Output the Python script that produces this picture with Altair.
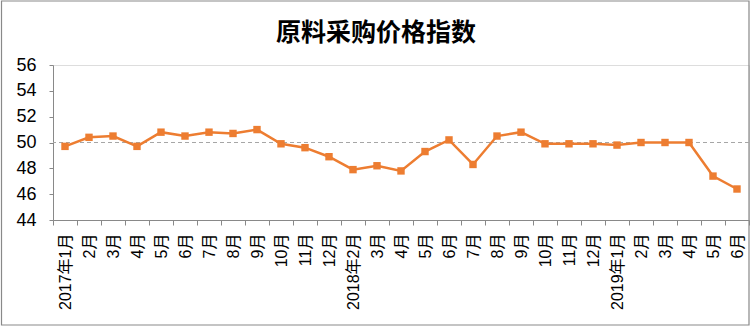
import json
import altair as alt
import pandas as pd

title_text = "原料采购价格指数"
labels = ["2017年1月", "2月", "3月", "4月", "5月", "6月", "7月", "8月", "9月", "10月", "11月", "12月",
          "2018年2月", "3月", "4月", "5月", "6月", "7月", "8月", "9月", "10月", "11月", "12月",
          "2019年1月", "2月", "3月", "4月", "5月", "6月"]
values = [49.7, 50.4, 50.5, 49.7, 50.8, 50.5, 50.8, 50.7, 51.0, 49.9, 49.6, 48.9,
          47.9, 48.2, 47.8, 49.3, 50.2, 48.3, 50.5, 50.8, 49.9, 49.9, 49.9,
          49.8, 50.0, 50.0, 50.0, 47.4, 46.4]
y_ticks = [44, 46, 48, 50, 52, 54, 56]
ref_value = 50

df = pd.DataFrame({"i": list(range(len(labels))), "v": values})
label_expr = json.dumps(labels, ensure_ascii=False) + "[datum.value]"

W, H = 696, 155
ORANGE = "#ED7D31"
GRAY = "#898989"

x_enc = alt.X(
    "i:O",
    scale=alt.Scale(paddingInner=0, paddingOuter=0),
    axis=alt.Axis(
        title=None, labelExpr=label_expr, labelAngle=270, tickBand="extent",
        tickSize=5, labelPadding=8, labelFontSize=16,
        labelFont="Liberation Sans, Noto Sans CJK SC", labelColor="#000000",
        domainColor=GRAY, tickColor=GRAY, labelOverlap=False, grid=False,
    ),
)
y_scale = alt.Scale(domain=[44, 56], nice=False, zero=False)
y_axis = alt.Axis(
    title=None, values=y_ticks, grid=False, tickSize=4, labelPadding=13,
    labelFontSize=18, labelFont="Liberation Sans", labelColor="#000000",
    domainColor=GRAY, tickColor=GRAY, labelOverlap=False,
    labelBound=False, labelFlush=False,
)

line = alt.Chart(df).mark_line(
    color=ORANGE, strokeWidth=2.5,
    point=alt.OverlayMarkDef(shape="square", size=55, filled=True, color=ORANGE, opacity=1),
).encode(x=x_enc, y=alt.Y("v:Q", scale=y_scale, axis=y_axis))

ref = alt.Chart(alt.Data(values=[{"v": ref_value}])).mark_rule(
    color="#A6A6A6", strokeDash=[4, 3], strokeWidth=1
).encode(y=alt.Y("v:Q", scale=y_scale, axis=y_axis))

border = alt.Chart(alt.Data(values=[{}])).mark_rect(
    fill=None, filled=False, stroke=GRAY, strokeWidth=1.2
).encode(x=alt.value(-51.5), x2=alt.value(696), y=alt.value(-64), y2=alt.value(260))

title = alt.Chart(alt.Data(values=[{"t": title_text}])).mark_text(
    font="Noto Sans CJK SC", fontSize=25, fontWeight="bold", color="#000000",
    align="center", baseline="middle",
).encode(text="t:N", x=alt.value(323), y=alt.value(-32))

chart = alt.layer(border, ref, line, title).properties(
    width=W, height=H,
    padding={"left": 53, "top": 65, "right": 1, "bottom": 106},
    autosize=alt.AutoSizeParams(type="none"),
).configure_view(strokeOpacity=0, strokeWidth=0).configure_axis(grid=False).configure(background="white")

chart.save("out.html", embed_options={"renderer": "svg", "actions": False})
